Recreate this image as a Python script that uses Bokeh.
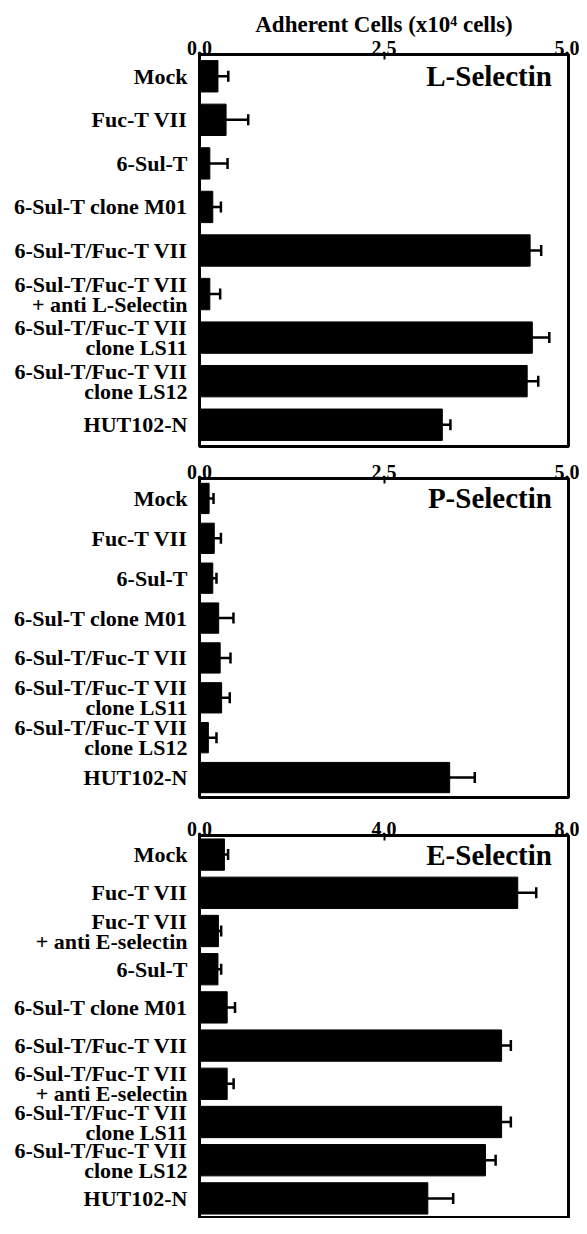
from bokeh.plotting import figure
from bokeh.models import (Range1d, FactorRange, FixedTicker, PrintfTickFormatter,
                          Label, Whisker, ColumnDataSource, TeeHead)
from bokeh.layouts import column
from bokeh.embed import file_html
from bokeh.resources import INLINE

FONT = "Liberation Serif"

l_cats = ["Mock", "Fuc-T VII", "6-Sul-T", "6-Sul-T clone M01", "6-Sul-T/Fuc-T VII",
          "6-Sul-T/Fuc-T VII\n+ anti L-Selectin", "6-Sul-T/Fuc-T VII\nclone LS11",
          "6-Sul-T/Fuc-T VII\nclone LS12", "HUT102-N"]
l_vals = [0.25, 0.36, 0.14, 0.18, 4.48, 0.14, 4.51, 4.44, 3.29]
l_errs = [0.14, 0.30, 0.24, 0.11, 0.15, 0.14, 0.23, 0.15, 0.11]

p_cats = ["Mock", "Fuc-T VII", "6-Sul-T", "6-Sul-T clone M01", "6-Sul-T/Fuc-T VII",
          "6-Sul-T/Fuc-T VII\nclone LS11", "6-Sul-T/Fuc-T VII\nclone LS12", "HUT102-N"]
p_vals = [0.13, 0.20, 0.18, 0.26, 0.28, 0.30, 0.12, 3.39]
p_errs = [0.06, 0.09, 0.05, 0.20, 0.14, 0.11, 0.11, 0.34]

e_cats = ["Mock", "Fuc-T VII", "Fuc-T VII\n+ anti E-selectin", "6-Sul-T", "6-Sul-T clone M01",
          "6-Sul-T/Fuc-T VII", "6-Sul-T/Fuc-T VII\n+ anti E-selectin",
          "6-Sul-T/Fuc-T VII\nclone LS11", "6-Sul-T/Fuc-T VII\nclone LS12", "HUT102-N"]
e_vals = [0.54, 6.90, 0.41, 0.40, 0.60, 6.55, 0.60, 6.55, 6.20, 4.95]
e_errs = [0.08, 0.40, 0.06, 0.07, 0.17, 0.20, 0.14, 0.20, 0.22, 0.55]

l_ticks = [0.0, 2.5, 5.0]
p_ticks = [0.0, 2.5, 5.0]
e_ticks = [0.0, 4.0, 8.0]

W = 579
LEFT = 199
RIGHT = 11


def make_panel(cats, vals, errs, ticks, name, height, top, bottom, bar_h, title=None):
    xmax = ticks[-1]
    p = figure(width=W, height=height,
               y_range=FactorRange(factors=cats[::-1], range_padding=0),
               x_range=Range1d(0, xmax), x_axis_location="above",
               output_backend="svg", toolbar_location=None,
               min_border_left=LEFT, min_border_right=RIGHT,
               min_border_top=top, min_border_bottom=bottom)
    p.grid.visible = False
    p.outline_line_color = "black"
    p.outline_line_width = 3
    p.outline_line_alpha = 1.0
    p.background_fill_color = "white"
    p.border_fill_color = "white"

    src = ColumnDataSource(dict(cat=cats, val=vals,
                                hi=[v + e for v, e in zip(vals, errs)]))
    p.hbar(y="cat", left=0, right="val", height=bar_h, source=src,
           fill_color="black", line_color="black")
    w = Whisker(source=src, base="cat", lower="val", upper="hi", dimension="width",
                line_color="black", line_width=2.5,
                upper_head=TeeHead(size=11, line_color="black", line_width=2.5),
                lower_head=TeeHead(size=2, line_color="black", line_width=1))
    p.add_layout(w)

    xa = p.xaxis[0]
    xa.ticker = FixedTicker(ticks=ticks, minor_ticks=[])
    xa.formatter = PrintfTickFormatter(format="%.1f")
    xa.major_tick_in = 5
    xa.major_tick_out = 0
    xa.minor_tick_line_color = None
    xa.major_tick_line_width = 2
    xa.axis_line_color = None
    xa.major_label_text_font = FONT
    xa.major_label_text_font_style = "bold"
    xa.major_label_text_font_size = "20px"
    xa.major_label_text_color = "black"
    xa.major_label_standoff = 0
    if title:
        xa.axis_label = title
        xa.axis_label_text_font = FONT
        xa.axis_label_text_font_style = "bold"
        xa.axis_label_text_font_size = "23px"
        xa.axis_label_text_color = "black"
        xa.axis_label_standoff = 1

    ya = p.yaxis[0]
    ya.axis_line_color = None
    ya.major_tick_line_color = None
    ya.minor_tick_line_color = None
    ya.major_label_text_font = FONT
    ya.major_label_text_font_style = "bold"
    ya.major_label_text_font_size = "22px"
    ya.major_label_text_color = "black"
    ya.major_label_text_line_height = 0.8
    ya.major_label_standoff = 6

    n = len(cats)
    p.add_layout(Label(x=xmax * 0.955, y=n - 0.5, text=name, text_align="right",
                       text_baseline="middle", text_font=FONT, text_font_style="bold",
                       text_font_size="29px", text_color="black"))
    return p


p1 = make_panel(l_cats, l_vals, l_errs, l_ticks, "L-Selectin", 450, 54, 4, 0.72,
                title="Adherent Cells (x10\u2074 cells)")
p2 = make_panel(p_cats, p_vals, p_errs, p_ticks, "P-Selectin", 352, 28, 5, 0.76)
p3 = make_panel(e_cats, e_vals, e_errs, e_ticks, "E-Selectin", 416, 33, 1, 0.82)

layout = column(p1, p2, p3, spacing=0)
open("out.html", "w").write(file_html(layout, INLINE))
